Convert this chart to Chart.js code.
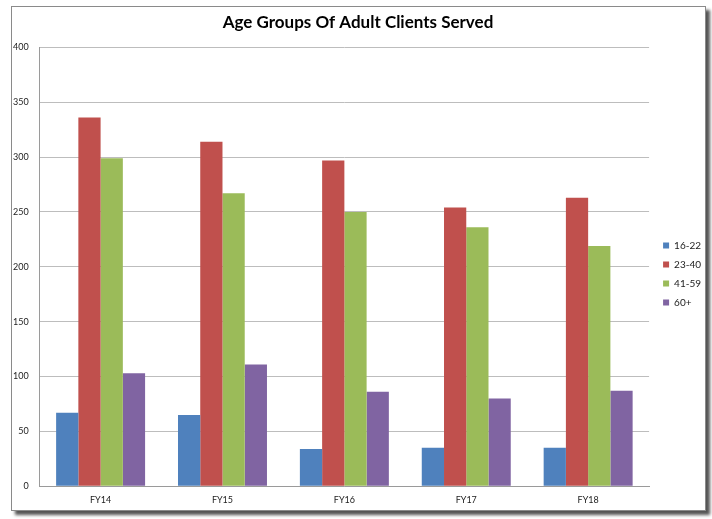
<!DOCTYPE html>
<html>
<head>
<meta charset="utf-8">
<script src="https://cdn.jsdelivr.net/npm/chart.js@4"></script>
<style>
  body { margin: 0; background: #fff; }
  #frame {
    position: absolute; left: 11px; top: 6px; width: 693px; height: 503px;
    border: 1px solid #8a8a8a; background: #fff;
    box-shadow: 4px 4px 3px #555;
  }
  #wrap { position: absolute; left: 0; top: 0; width: 712px; height: 519px; }
</style>
</head>
<body>
<div id="frame"></div>
<div id="wrap"><canvas id="ageChart" width="712" height="519"></canvas></div>
<script>
// fiscal years and age group counts
var years = ["FY14", "FY15", "FY16", "FY17", "FY18"];
var age16to22 = [67, 65, 34, 35, 35];
var age23to40 = [336, 314, 297, 254, 263];
var age41to59 = [299, 267, 250, 236, 219];
var age60plus = [103, 111, 86, 80, 87];
var yTicks = [0, 50, 100, 150, 200, 250, 300, 350, 400];

var fontName = "Lato, 'Open Sans', sans-serif";

function makeSet(label, values, color) {
  return {
    label: label,
    data: values,
    backgroundColor: color,
    borderWidth: 0,
    categoryPercentage: 0.73,
    barPercentage: 1.0
  };
}

// nudge the legend and title a little right, like the excel original
var boxNudge = {
  id: 'boxNudge',
  afterLayout: function(chart) {
    chart.legend.left += 5;
    chart.legend.right += 5;
    chart.titleBlock.left += 4;
    chart.titleBlock.right += 4;
  }
};

var config = {
  type: 'bar',
  data: {
    labels: years,
    datasets: [
      makeSet('16-22', age16to22, '#4F81BD'),
      makeSet('23-40', age23to40, '#C0504D'),
      makeSet('41-59', age41to59, '#9BBB59'),
      makeSet('60+', age60plus, '#8064A2')
    ]
  },
  options: {
    responsive: false,
    animation: false,
    layout: { padding: { left: 2, right: 6, top: 10, bottom: 6 } },
    plugins: {
      title: {
        display: true,
        text: 'Age Groups Of Adult Clients Served',
        color: '#000',
        font: { family: fontName, size: 17, weight: 'bold' },
        padding: { top: 2, bottom: 15 }
      },
      legend: {
        position: 'right',
        fullSize: false,
        title: { display: true, text: '', padding: 0 },
        labels: {
          boxWidth: 6,
          boxHeight: 6,
          padding: 9,
          color: '#222',
          font: { family: fontName, size: 10 }
        }
      },
      tooltip: { enabled: false }
    },
    scales: {
      x: {
        grid: { display: false, drawTicks: false },
        border: { color: '#9a9a9a' },
        ticks: { color: '#222', padding: 8, font: { family: fontName, size: 9 } }
      },
      y: {
        min: 0,
        max: 400,
        afterBuildTicks: function(axis) {
          axis.ticks = yTicks.map(function(v) { return { value: v }; });
        },
        grid: { color: '#bdbdbd', drawTicks: false },
        border: { color: '#9a9a9a' },
        ticks: { color: '#222', padding: 11, font: { family: fontName, size: 9 } }
      }
    }
  },
  plugins: [boxNudge]
};

var ageChart = new Chart(document.getElementById('ageChart'), config);
</script>
</body>
</html>
